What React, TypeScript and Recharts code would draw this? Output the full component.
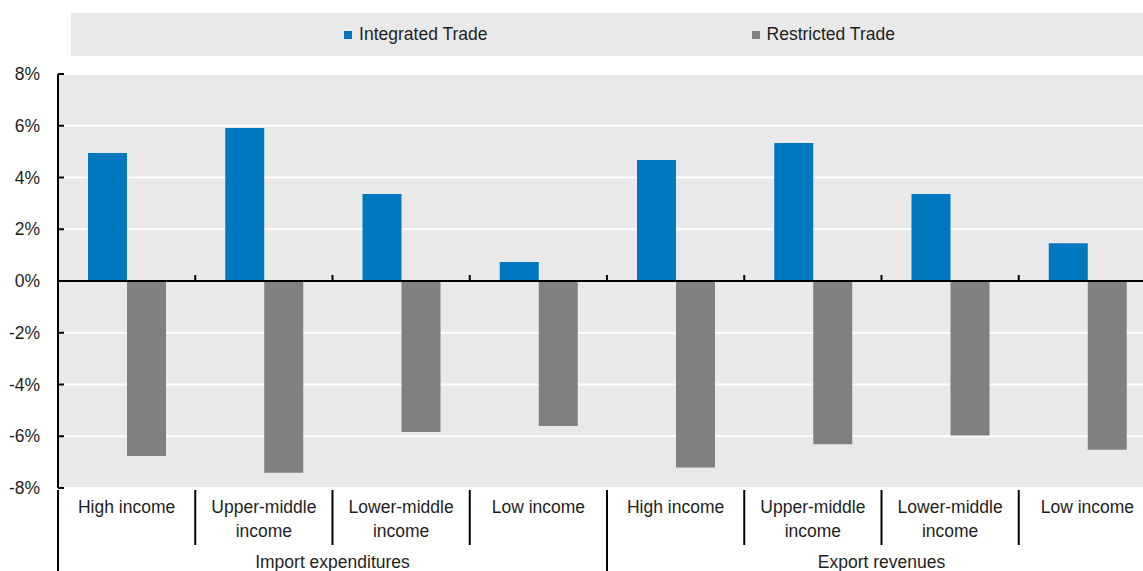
import { Bar, BarChart, CartesianGrid, Legend, ReferenceLine, XAxis, YAxis } from 'recharts';

const groups = ['Import expenditures', 'Export revenues'];
const incomeLevels = ['High income', 'Upper-middle\nincome', 'Lower-middle\nincome', 'Low income'];
const integratedTrade = [4.95, 5.91, 3.36, 0.73, 4.68, 5.33, 3.36, 1.46];
const restrictedTrade = [-6.76, -7.41, -5.84, -5.6, -7.21, -6.31, -5.97, -6.52];
const yTicks = [-8, -6, -4, -2, 0, 2, 4, 6, 8];

const BLUE = '#0078bf';
const GRAY = '#808080';
const PANEL = '#e9e9e9';
const TEXT = '#1e1e1e';
const FONT = '"Liberation Sans", Arial, sans-serif';
const FONT_SIZE = 17.5;

const CHART_W = 1156;
const CHART_H = 571;
const Y_AXIS_W = 58;
const PLOT_TOP = 74;
const PLOT_H = 414;
const LEGEND_H = 43;
const BAND = (CHART_W - Y_AXIS_W) / (groups.length * incomeLevels.length);
const ZERO_Y = PLOT_TOP + PLOT_H / 2;

const data = groups.flatMap((group, g) =>
  incomeLevels.map((level, i) => ({
    key: `${g}-${i}`,
    level,
    group,
    integrated: integratedTrade[g * incomeLevels.length + i],
    restricted: restrictedTrade[g * incomeLevels.length + i],
  })),
);

function YTick({ x, y, payload }: any) {
  return (
    <g>
      <line x1={x + 18} x2={x + 24} y1={y} y2={y} stroke="#000" strokeWidth={2} />
      <text x={x} y={y} dy="0.35em" textAnchor="end" fill={TEXT} fontSize={FONT_SIZE} fontFamily={FONT}>
        {payload.value}%
      </text>
    </g>
  );
}

function CategoryTick({ x, y, index }: any) {
  const row = data[index];
  const lines = row.level.split('\n');
  const left = x - BAND / 2;
  const groupStart = index % incomeLevels.length === 0;
  const groupMid = index % incomeLevels.length === 1;
  return (
    <g>
      {/* separator below the plot, longer at group edges */}
      <line x1={left} x2={left} y1={y + 2} y2={groupStart ? CHART_H : y + 57} stroke="#000" strokeWidth={2} />
      {index > 0 && <line x1={left} x2={left} y1={ZERO_Y - 6} y2={ZERO_Y} stroke="#000" strokeWidth={2} />}
      {lines.map((ln: string, k: number) => (
        <text key={k} x={x} y={y + 25 + k * 24} textAnchor="middle" fill={TEXT} fontSize={FONT_SIZE} fontFamily={FONT}>
          {ln}
        </text>
      ))}
      {groupMid && (
        <text x={x + BAND / 2} y={y + 80} textAnchor="middle" fill={TEXT} fontSize={FONT_SIZE} fontFamily={FONT}>
          {row.group}
        </text>
      )}
    </g>
  );
}

function LegendBand() {
  const items = [
    { label: 'Integrated Trade', color: BLUE },
    { label: 'Restricted Trade', color: GRAY },
  ];
  return (
    <div
      style={{
        height: LEGEND_H,
        background: PANEL,
        display: 'flex',
        alignItems: 'center',
        justifyContent: 'center',
        gap: 264,
        paddingLeft: 12,
        boxSizing: 'border-box',
        fontFamily: FONT,
        fontSize: FONT_SIZE,
        color: TEXT,
      }}
    >
      {items.map((it) => (
        <span key={it.label} style={{ display: 'flex', alignItems: 'center' }}>
          <span style={{ width: 8, height: 8, background: it.color, marginRight: 7, display: 'inline-block' }} />
          {it.label}
        </span>
      ))}
    </div>
  );
}

export default function App() {
  return (
    <div style={{ position: 'absolute', left: 0, top: 0, width: 1143, height: 571, overflow: 'hidden', background: '#fff' }}>
      <BarChart
        width={CHART_W}
        height={CHART_H}
        data={data}
        margin={{ top: PLOT_TOP - LEGEND_H, right: 0, bottom: 0, left: 0 }}
        barGap={0}
      >
        <CartesianGrid vertical={false} stroke="#fff" strokeWidth={2} fill={PANEL} />
        <Legend
          verticalAlign="top"
          align="left"
          wrapperStyle={{ top: 13, left: 71, width: CHART_W - 71, height: LEGEND_H }}
          content={() => <LegendBand />}
        />
        <XAxis
          dataKey="key"
          interval={0}
          height={CHART_H - PLOT_TOP - PLOT_H}
          axisLine={false}
          tickLine={false}
          tickSize={0}
          tickMargin={0}
          tick={<CategoryTick />}
        />
        <YAxis
          width={Y_AXIS_W}
          domain={[-8, 8]}
          ticks={yTicks}
          allowDataOverflow
          axisLine={{ stroke: '#000', strokeWidth: 2 }}
          tickLine={false}
          tickSize={0}
          tickMargin={18}
          tick={<YTick />}
        />
        <Bar dataKey="integrated" name="Integrated Trade" fill={BLUE} barSize={39} isAnimationActive={false} />
        <Bar dataKey="restricted" name="Restricted Trade" fill={GRAY} barSize={39} isAnimationActive={false} />
        <ReferenceLine y={0} stroke="#000" strokeWidth={2} />
      </BarChart>
    </div>
  );
}
